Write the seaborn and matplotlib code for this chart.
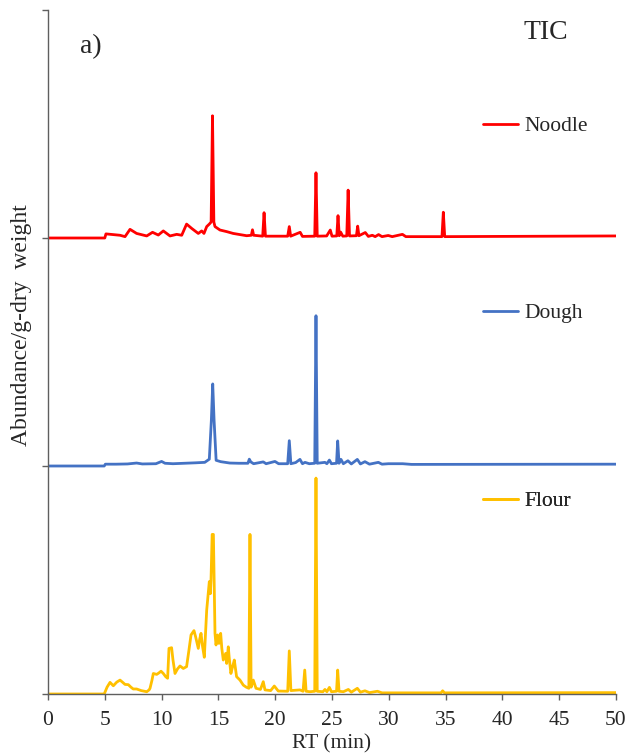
import matplotlib
matplotlib.use("Agg")
import matplotlib.pyplot as plt
import seaborn as sns
import pandas as pd

# Retention time (min) and abundance per g dry weight (normalised units)
flour_rt = [0, 4.95, 5.05, 5.2, 5.46, 5.75, 6.05, 6.34, 6.6, 6.78, 7.07, 7.3, 7.5, 7.8, 8.2,
            8.69, 8.9, 8.98, 9.15, 9.27, 9.57, 9.75, 9.95, 10.15, 10.36, 10.53, 10.65, 10.88,
            11.0, 11.18, 11.4, 11.62, 11.91, 12.2, 12.4, 12.59, 12.85, 13.0, 13.23, 13.35,
            13.47, 13.6, 13.76, 13.97, 14.2, 14.29, 14.35, 14.45, 14.56, 14.7, 14.79, 14.93,
            15.05, 15.2, 15.3, 15.43, 15.64, 15.73, 15.87, 15.95, 16.1, 16.25, 16.4, 16.6,
            16.9, 17.19, 17.45, 17.68, 17.78, 17.88, 18.07, 18.31, 18.7, 18.95, 19.1, 19.6,
            19.92, 20.27, 21.1, 21.24, 21.38, 22.18, 22.45, 22.6, 22.72, 23.06, 23.48, 23.59,
            23.7, 24.2, 24.38, 24.55, 24.77, 24.95, 25.4, 25.5, 25.62, 26.0, 26.44, 26.7,
            27.23, 27.5, 27.9, 28.3, 29.0, 29.4, 34.6, 34.74, 34.9, 50]
flour_ab = [0, 0, 0.012, 0.03, 0.051, 0.036, 0.052, 0.061, 0.05, 0.042, 0.041, 0.03, 0.022, 0.022,
            0.015, 0.01, 0.018, 0.025, 0.06, 0.09, 0.086, 0.092, 0.10, 0.09, 0.076, 0.069, 0.20,
            0.203, 0.15, 0.09, 0.11, 0.123, 0.112, 0.12, 0.19, 0.259, 0.278, 0.25, 0.20, 0.24,
            0.266, 0.21, 0.161, 0.368, 0.493, 0.44, 0.50, 0.70, 0.70, 0.266, 0.215, 0.259,
            0.222, 0.266, 0.20, 0.149, 0.178, 0.134, 0.207, 0.16, 0.09, 0.12, 0.149, 0.076,
            0.061, 0.039, 0.03, 0.025, 0.70, 0.03, 0.061, 0.025, 0.02, 0.054, 0.018, 0.015,
            0.035, 0.013, 0.012, 0.189, 0.015, 0.018, 0.012, 0.105, 0.012, 0.01, 0.012, 0.947,
            0.012, 0.01, 0.02, 0.01, 0.029, 0.01, 0.012, 0.105, 0.012, 0.01, 0.02, 0.008,
            0.025, 0.008, 0.014, 0.006, 0.012, 0.005, 0.005, 0.014, 0.005, 0.006]

dough_rt = [0, 4.95, 5.05, 6.0, 7.0, 7.8, 8.3, 9.5, 10.0, 10.3, 11.0, 12.0, 13.0, 13.8, 14.2,
            14.38, 14.5, 14.62, 14.8, 15.2, 16.0, 16.8, 17.6, 17.72, 17.85, 18.1, 18.95, 19.2,
            19.98, 20.3, 21.1, 21.24, 21.38, 21.8, 22.18, 22.4, 22.62, 23.0, 23.48, 23.59, 23.7,
            24.38, 24.55, 24.77, 24.95, 25.4, 25.5, 25.62, 25.79, 26.0, 26.4, 26.7, 27.23, 27.5,
            27.9, 28.3, 29.08, 29.4, 29.96, 31.22, 32.0, 50]
dough_ab = [0, 0, 0.008, 0.008, 0.009, 0.013, 0.009, 0.01, 0.02, 0.012, 0.01, 0.012, 0.014, 0.016,
            0.03, 0.2, 0.36, 0.2, 0.025, 0.019, 0.013, 0.012, 0.012, 0.03, 0.018, 0.01, 0.018,
            0.01, 0.02, 0.01, 0.01, 0.111, 0.01, 0.015, 0.029, 0.01, 0.016, 0.01, 0.012, 0.659,
            0.012, 0.016, 0.01, 0.026, 0.01, 0.012, 0.11, 0.012, 0.029, 0.01, 0.023, 0.009,
            0.029, 0.009, 0.019, 0.008, 0.016, 0.008, 0.01, 0.01, 0.007, 0.008]

noodle_rt = [0, 5.0, 5.1, 6.34, 6.78, 7.22, 7.8, 8.69, 9.2, 9.71, 10.15, 10.74, 11.33, 11.77, 12.2,
             12.65, 13.23, 13.53, 13.73, 13.97, 14.2, 14.36, 14.48, 14.6, 14.7, 15.14, 15.73,
             16.3, 17.49, 17.9, 18.0, 18.1, 18.9, 19.02, 19.14, 20.0, 21.1, 21.24, 21.36, 22.2,
             22.4, 23.48, 23.59, 23.7, 24.53, 24.85, 25.0, 25.42, 25.53, 25.64, 25.76, 25.95,
             26.3, 26.42, 26.54, 27.15, 27.26, 27.37, 27.93, 28.2, 28.55, 28.8, 29.1, 29.4,
             29.95, 30.3, 31.2, 31.5, 34.68, 34.8, 34.92, 50]
noodle_ab = [0, 0, 0.018, 0.012, 0.006, 0.038, 0.02, 0.009, 0.025, 0.013, 0.031, 0.009, 0.016,
             0.012, 0.061, 0.042, 0.02, 0.031, 0.02, 0.05, 0.061, 0.07, 0.536, 0.07, 0.05, 0.035,
             0.028, 0.02, 0.01, 0.012, 0.036, 0.012, 0.008, 0.111, 0.008, 0.008, 0.008, 0.05,
             0.008, 0.025, 0.007, 0.008, 0.286, 0.008, 0.009, 0.035, 0.008, 0.009, 0.098, 0.01,
             0.026, 0.008, 0.009, 0.21, 0.009, 0.01, 0.052, 0.01, 0.024, 0.007, 0.012, 0.006,
             0.015, 0.006, 0.011, 0.006, 0.016, 0.006, 0.006, 0.113, 0.006, 0.009]

samples = ["Noodle", "Dough", "Flour"]
offsets = {"Noodle": 2, "Dough": 1, "Flour": 0}
colors = {"Noodle": "#FF0000", "Dough": "#4472C4", "Flour": "#FFC000"}
series = {"Noodle": (noodle_rt, noodle_ab),
          "Dough": (dough_rt, dough_ab),
          "Flour": (flour_rt, flour_ab)}
legend_y = {"Noodle": 0.830, "Dough": 0.557, "Flour": 0.282}

sns.set_style("ticks")
plt.rcParams["font.family"] = ["Liberation Serif", "DejaVu Serif"]
plt.rcParams["font.size"] = 15

fig = plt.figure(figsize=(6.32, 7.55), dpi=100)
ax = fig.add_axes([48 / 632, 1 - 694 / 755, 568 / 632, 684 / 755])

axis_grey = "#5f5f5f"

for name in samples:
    rt, ab = series[name]
    df = pd.DataFrame({"rt": rt, "abundance": ab})
    df["stacked"] = df["abundance"] + offsets[name]
    sns.lineplot(data=df, x="rt", y="stacked", ax=ax, color=colors[name],
                 linewidth=2.0, sort=False, estimator=None)
    line = ax.lines[-1]
    leg = ax.legend(handles=[line], labels=[name], loc="center left",
                    bbox_to_anchor=(0.766, legend_y[name]), frameon=False,
                    handlelength=1.6, handletextpad=0.3, borderpad=0,
                    borderaxespad=0, fontsize=15.5)
    ax.add_artist(leg)

ax.set_xlim(0, 50)
ax.set_ylim(0, 3)
ax.set_xticks(range(0, 51, 5))
ax.set_yticks([0, 1, 2, 3])
ax.set_yticklabels([])
ax.tick_params(axis="both", direction="out", length=4, width=1, color=axis_grey,
               labelsize=15.5)
ax.tick_params(axis="x", pad=8)
for side in ("top", "right"):
    ax.spines[side].set_visible(False)
for side in ("left", "bottom"):
    ax.spines[side].set_color(axis_grey)
    ax.spines[side].set_linewidth(1)

ax.set_xlabel("RT (min)", fontsize=15.5, labelpad=3)
ax.set_ylabel("Abundance/g-dry  weight", fontsize=17)
ax.yaxis.set_label_coords(-0.029, 0.54)

ax.text(2.8, 2.84, "a)", fontsize=20, va="center", ha="left")
ax.text(41.9, 2.9, "TIC", fontsize=20, va="center", ha="left")

fig.savefig("out.png", dpi=100)
